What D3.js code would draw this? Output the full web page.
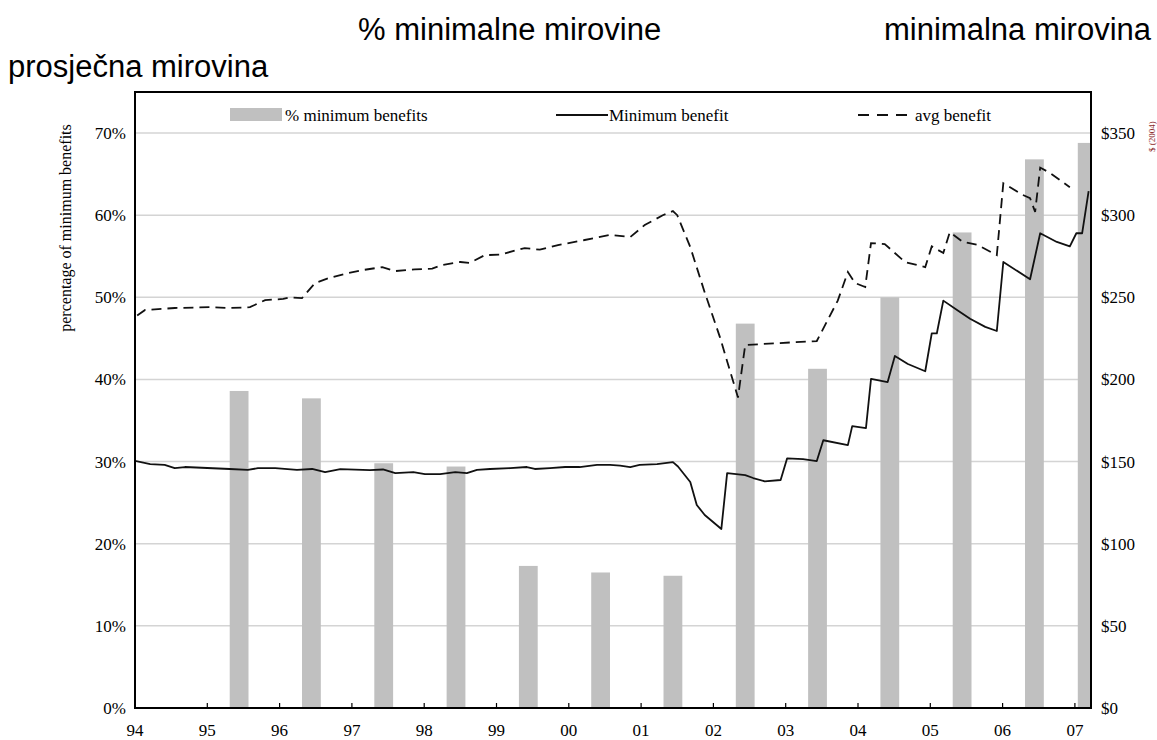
<!DOCTYPE html>
<html>
<head>
<meta charset="utf-8">
<script src="https://cdn.jsdelivr.net/npm/d3@7"></script>
<style>
  body { margin: 0; background: #fff; }
  svg { display: block; }
</style>
</head>
<body>
<svg id="chart" width="1157" height="740"></svg>
<script>
// ---------- DATA ----------
const xTickLabels = ["94","95","96","97","98","99","00","01","02","03","04","05","06","07"];
const leftTickLabels = ["0%","10%","20%","30%","40%","50%","60%","70%"];
const rightTickLabels = ["$0","$50","$100","$150","$200","$250","$300","$350"];

// % of minimum benefits (bars)
const barDates  = [1995.44,1996.44,1997.44,1998.44,1999.44,2000.44,2001.44,2002.44,2003.44,2004.44,2005.44,2006.44,2007.17];
const barValues = [0.386,0.377,0.298,0.294,0.173,0.165,0.161,0.468,0.413,0.500,0.579,0.668,0.688];

// Minimum benefit ($)
const minDates = [1994.00,1994.21,1994.41,1994.55,1994.69,1995.31,1995.56,1995.70,1995.94,1996.24,1996.45,1996.63,1996.84,1997.25,1997.43,1997.60,1997.85,1998.01,1998.22,1998.43,1998.59,1998.73,1998.91,1999.19,1999.42,1999.53,1999.74,1999.95,2000.15,2000.39,2000.57,2000.71,2000.85,2000.98,2001.22,2001.44,2001.51,2001.68,2001.77,2001.88,2002.11,2002.19,2002.44,2002.55,2002.71,2002.93,2003.02,2003.24,2003.43,2003.52,2003.86,2003.92,2004.11,2004.18,2004.41,2004.51,2004.69,2004.93,2005.02,2005.09,2005.18,2005.38,2005.55,2005.76,2005.92,2006.01,2006.38,2006.52,2006.75,2006.93,2007.02,2007.10,2007.19];
const minValues = [150.4,148.5,148.0,146.0,146.7,145.5,145.0,146.0,146.0,145.0,145.5,143.6,145.4,144.8,145.2,143.0,143.6,142.4,142.4,143.6,143.0,145.0,145.5,146.0,146.7,145.5,146.0,146.7,146.7,148.0,148.0,147.5,146.7,148.0,148.5,149.7,147.0,137.6,123.6,117.5,109.0,143.0,141.8,140.0,138.0,138.8,152.0,151.5,150.3,163.0,160.0,171.6,170.4,200.3,198.4,214.3,209.4,205.0,228.0,228.0,248.0,242.0,237.0,232.0,229.5,271.5,261.0,289.0,283.7,281.0,289.0,289.0,314.7];

// Average benefit ($)
const avgDates = [1994.03,1994.14,1994.55,1995.04,1995.31,1995.59,1995.80,1996.05,1996.14,1996.31,1996.49,1996.70,1996.95,1997.15,1997.42,1997.60,1997.87,1998.11,1998.25,1998.50,1998.63,1998.84,1999.05,1999.39,1999.60,1999.85,2000.22,2000.57,2000.85,2001.05,2001.30,2001.44,2001.50,2001.68,2001.88,2002.09,2002.34,2002.44,2003.43,2003.72,2003.86,2003.96,2004.10,2004.18,2004.37,2004.65,2004.93,2005.02,2005.18,2005.27,2005.45,2005.65,2005.92,2006.01,2006.28,2006.38,2006.45,2006.52,2006.66,2006.93];
const avgValues = [239.0,242.3,243.5,244.0,243.5,244.0,248.3,249.0,250.0,249.5,258.7,262.0,264.8,266.6,268.4,266.0,267.0,267.5,269.7,271.5,271.0,275.7,276.0,280.0,279.0,281.8,284.9,288.0,286.7,294.0,300.0,302.5,300.0,280.6,253.0,225.8,189.0,221.0,223.4,248.0,265.4,258.7,256.3,283.0,282.4,271.5,268.4,281.0,277.0,289.7,283.7,282.0,275.7,319.5,312.3,310.4,302.0,329.0,325.6,317.0];

const titleLabels = ["% minimalne mirovine","minimalna mirovina","prosječna mirovina"];
const legendLabels = ["% minimum benefits","Minimum benefit","avg benefit"];
const yAxisTitle = "percentage of minimum benefits";
const rightAxisTitle = "$ (2004)";

// ---------- LAYOUT ----------
const svg = d3.select("#chart");
const L = 135, R = 1091, T = 92, B = 708;
const serif = "'Liberation Serif','Times New Roman',serif";
const sans = "'Liberation Sans',Arial,sans-serif";

const x = d3.scaleLinear().domain([1994, 1994 + (R - L) / 72.3]).range([L, R]);
const yL = d3.scaleLinear().domain([0, 0.75]).range([B, T]);
const yR = d3.scaleLinear().domain([0, 375]).range([B, T]);

// titles
svg.append("text").attr("x", 358).attr("y", 40).text(titleLabels[0])
  .attr("font-family", sans).attr("font-size", 31).attr("fill", "#000");
svg.append("text").attr("x", 884).attr("y", 40).text(titleLabels[1])
  .attr("font-family", sans).attr("font-size", 31).attr("fill", "#000");
svg.append("text").attr("x", 8).attr("y", 77).text(titleLabels[2])
  .attr("font-family", sans).attr("font-size", 31).attr("fill", "#000");

svg.append("defs").append("clipPath").attr("id", "plotclip")
  .append("rect").attr("x", L).attr("y", T).attr("width", R - L).attr("height", B - T);

// gridlines
const gridTicks = d3.range(1, 8).map(d => d / 10);
svg.append("g").selectAll("line").data(gridTicks).join("line")
  .attr("x1", L).attr("x2", R)
  .attr("y1", d => yL(d)).attr("y2", d => yL(d))
  .attr("stroke", "#d4d4d4").attr("stroke-width", 1.5);

// bars
const bw = x(2007.26) - x(2007);
svg.append("g").attr("clip-path", "url(#plotclip)")
  .selectAll("rect").data(barValues).join("rect")
  .attr("x", (d, i) => x(barDates[i]) - bw / 2)
  .attr("width", bw)
  .attr("y", d => yL(d))
  .attr("height", d => B - yL(d))
  .attr("fill", "#c0c0c0");

// lines
const lineGen = d3.line().x(d => x(d[0])).y(d => yR(d[1]));
const minPts = minDates.map((d, i) => [d, minValues[i]]);
const avgPts = avgDates.map((d, i) => [d, avgValues[i]]);
const lg = svg.append("g").attr("clip-path", "url(#plotclip)");
lg.append("path").datum(minPts).attr("d", lineGen)
  .attr("fill", "none").attr("stroke", "#111").attr("stroke-width", 1.8).attr("stroke-linejoin", "round");
lg.append("path").datum(avgPts).attr("d", lineGen)
  .attr("fill", "none").attr("stroke", "#111").attr("stroke-width", 1.8).attr("stroke-dasharray", "10,6");

// x axis ticks (inside, upward)
const yearTicks = d3.range(1995, 2008);
svg.append("g").selectAll("line").data(yearTicks).join("line")
  .attr("x1", d => x(d)).attr("x2", d => x(d))
  .attr("y1", B).attr("y2", B - 5)
  .attr("stroke", "#000").attr("stroke-width", 1.2);
svg.append("g").selectAll("text").data(xTickLabels).join("text")
  .attr("x", (d, i) => x(1994 + i)).attr("y", 736)
  .attr("text-anchor", "middle")
  .attr("font-family", serif).attr("font-size", 17).attr("fill", "#000")
  .text(d => d);

// left tick labels
svg.append("g").selectAll("text").data(leftTickLabels).join("text")
  .attr("x", 126).attr("y", (d, i) => yL(i / 10) + 6)
  .attr("text-anchor", "end")
  .attr("font-family", serif).attr("font-size", 17).attr("fill", "#000")
  .text(d => d);

// right tick labels
svg.append("g").selectAll("text").data(rightTickLabels).join("text")
  .attr("x", 1101).attr("y", (d, i) => yR(i * 50) + 6)
  .attr("text-anchor", "start")
  .attr("font-family", serif).attr("font-size", 17).attr("fill", "#000")
  .text(d => d);

// y axis title
svg.append("text")
  .attr("transform", "translate(71,228) rotate(-90)")
  .attr("text-anchor", "middle")
  .attr("font-family", serif).attr("font-size", 16).attr("fill", "#000")
  .text(yAxisTitle);

// right axis title (small, at the edge)
svg.append("text")
  .attr("transform", "translate(1155,152) rotate(-90)")
  .attr("text-anchor", "start")
  .attr("font-family", serif).attr("font-size", 9).attr("fill", "#8b2a2a")
  .text(rightAxisTitle);

// legend
const legY = 115;
svg.append("rect").attr("x", 230).attr("y", legY - 7).attr("width", 52).attr("height", 13).attr("fill", "#c0c0c0");
svg.append("text").attr("x", 285).attr("y", legY + 6).text(legendLabels[0])
  .attr("font-family", serif).attr("font-size", 17).attr("fill", "#000");
svg.append("line").attr("x1", 556).attr("x2", 608).attr("y1", legY).attr("y2", legY)
  .attr("stroke", "#111").attr("stroke-width", 1.8);
svg.append("text").attr("x", 609).attr("y", legY + 6).text(legendLabels[1])
  .attr("font-family", serif).attr("font-size", 17).attr("fill", "#000");
svg.append("line").attr("x1", 858).attr("x2", 908).attr("y1", legY).attr("y2", legY)
  .attr("stroke", "#111").attr("stroke-width", 1.8).attr("stroke-dasharray", "11,8");
svg.append("text").attr("x", 915).attr("y", legY + 6).text(legendLabels[2])
  .attr("font-family", serif).attr("font-size", 17).attr("fill", "#000");

// plot border
svg.append("rect").attr("x", L).attr("y", T).attr("width", R - L).attr("height", B - T)
  .attr("fill", "none").attr("stroke", "#000").attr("stroke-width", 2);
</script>
</body>
</html>
